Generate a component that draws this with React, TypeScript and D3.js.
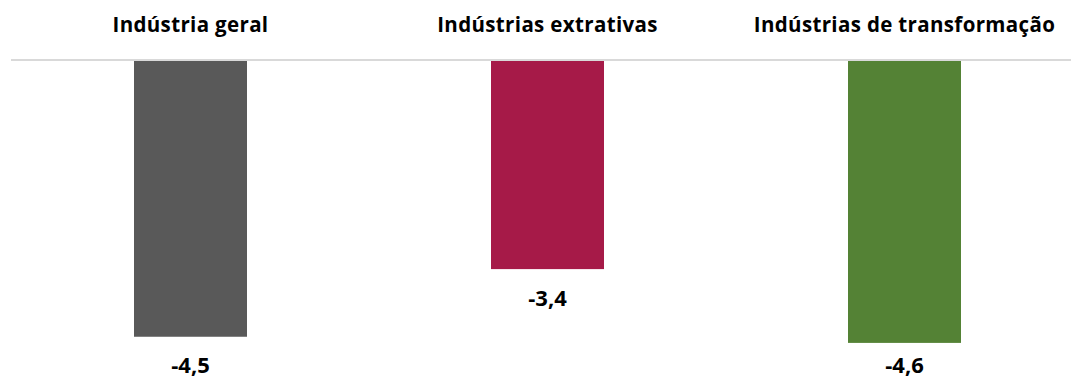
import React from "react";
import * as d3 from "d3";

const categories = ["Indústria geral", "Indústrias extrativas", "Indústrias de transformação"];
const values = [-4.5, -3.4, -4.6];
const colors = ["#595959", "#A61A48", "#548235"];

const W = 1071;
const H = 376;
const FONT = "'Open Sans', sans-serif";

export default function App() {
  const x = d3.scaleBand<string>().domain(categories).range([12, 1083]).paddingInner(0.6835).paddingOuter(0.34175);
  const y = d3.scaleLinear().domain([-5.5, 0]).range([60 + 5.5 * 61.5, 60]);
  const fmt = (v: number) => d3.format(".1f")(v).replace(".", ",").replace("−", "-");
  const labelMaxBaseline = 372.5;
  return (
    <svg width={W} height={H} style={{ position: "absolute", left: 0, top: 0, background: "#fff" }}>
      {categories.map((c, i) => {
        const cx = (x(c) as number) + x.bandwidth() / 2;
        return (
          <text key={"t" + i} x={cx} y={32} textAnchor="middle" fontFamily={FONT} fontWeight="bold" fontSize={20.5} letterSpacing={0.35} fill="#000">
            {c}
          </text>
        );
      })}
      {values.map((v, i) => (
        <rect key={"b" + i} x={x(categories[i]) as number} y={y(0)} width={x.bandwidth()} height={y(v) - y(0)} fill={colors[i]} />
      ))}
      <line x1={11} x2={1071} y1={y(0)} y2={y(0)} stroke="#D9D9D9" strokeWidth={2} />
      {values.map((v, i) => {
        const cx = (x(categories[i]) as number) + x.bandwidth() / 2;
        const base = Math.min(y(v) + 36.6, labelMaxBaseline);
        return (
          <text key={"v" + i} x={cx} y={base} textAnchor="middle" fontFamily={FONT} fontWeight="bold" fontSize={22} fill="#000">
            {fmt(v)}
          </text>
        );
      })}
    </svg>
  );
}
